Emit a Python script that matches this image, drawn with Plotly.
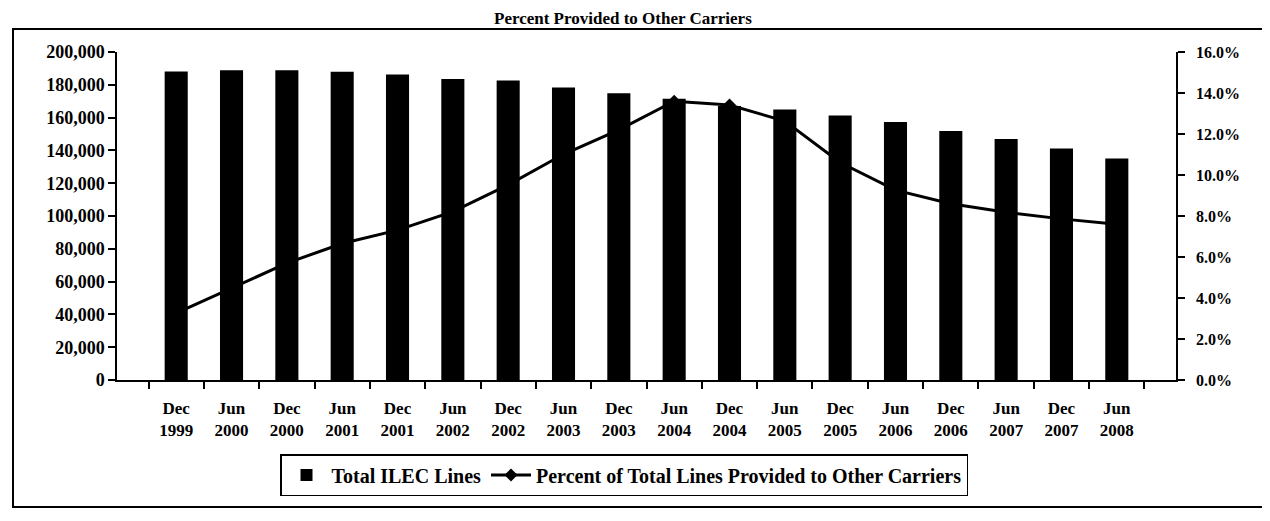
import plotly.graph_objects as go

# ---- data ----
periods = ["Dec 1999", "Jun 2000", "Dec 2000", "Jun 2001", "Dec 2001", "Jun 2002",
           "Dec 2002", "Jun 2003", "Dec 2003", "Jun 2004", "Dec 2004", "Jun 2005",
           "Dec 2005", "Jun 2006", "Dec 2006", "Jun 2007", "Dec 2007", "Jun 2008"]
tick_labels = [p.replace(" ", "<br>") for p in periods]
ilec_lines = [188100, 188800, 188900, 188000, 186300, 183500, 182600, 178400, 174800,
              171500, 167000, 165000, 161300, 157300, 151900, 146900, 141100, 135100]
pct_other = [3.26, 4.50, 5.70, 6.66, 7.31, 8.21, 9.52, 11.01, 12.20,
             13.60, 13.41, 12.63, 10.61, 9.26, 8.60, 8.18, 7.86, 7.60]

bar_name = "Total ILEC Lines"
line_name = "Percent of Total Lines Provided to Other Carriers"
title_text = "Percent Provided to Other Carriers"

FONT = "Liberation Serif"

fig = go.Figure()
fig.add_trace(go.Bar(
    x=periods, y=ilec_lines, name=bar_name,
    marker=dict(color="black", line=dict(width=0)),
    yaxis="y"))
fig.add_trace(go.Scatter(
    x=periods, y=pct_other, name=line_name, mode="lines+markers",
    line=dict(color="black", width=3),
    marker=dict(symbol="diamond", size=10, color="black"),
    yaxis="y2"))

# page body has an 8px margin: figure pixel = screen pixel - 8
OFF = 8
W, H = 1270 - OFF, 521 - OFF
L, R, T, B = 117 - OFF, W - (1176 - OFF), 52 - OFF, H - (380 - OFF)
pw, ph = W - L - R, H - T - B

def px_x(screen_x):
    return (screen_x - OFF - L) / pw

def px_y(screen_y):
    return (H - B - (screen_y - OFF)) / ph

fig.update_layout(
    width=W, height=H,
    margin=dict(l=L, r=R, t=T, b=B, autoexpand=False),
    paper_bgcolor="white", plot_bgcolor="white",
    font=dict(family=FONT, color="black", size=16),
    bargap=0.583,
    showlegend=True,
    legend=dict(
        orientation="h", x=px_x(624), xanchor="center", y=px_y(454), yanchor="top",
        bordercolor="black", borderwidth=1.5, bgcolor="white",
        font=dict(family=FONT, size=20, color="black", weight="bold"),
        itemwidth=40, tracegroupgap=0),
    xaxis=dict(
        type="category", tickvals=periods, ticktext=tick_labels,
        showline=True, linecolor="black", linewidth=1.5,
        ticks="outside", tickson="boundaries", ticklen=7, tickcolor="black", tickwidth=1.5,
        ticklabelstandoff=12, automargin=False,
        tickfont=dict(family=FONT, size=17, color="black", weight="bold"),
        showgrid=False, zeroline=False),
    yaxis=dict(
        range=[0, 200000], dtick=20000, tickformat=",",
        showline=True, linecolor="black", linewidth=1.5,
        ticks="outside", ticklen=7, tickcolor="black", tickwidth=1.5,
        automargin=False,
        tickfont=dict(family=FONT, size=18, color="black", weight="bold"),
        showgrid=False, zeroline=False),
    yaxis2=dict(
        range=[0, 16], dtick=2, tickformat=".1f", ticksuffix="%",
        overlaying="y", side="right",
        showline=True, linecolor="black", linewidth=1.5,
        ticks="outside", ticklen=7, tickcolor="black", tickwidth=1.5,
        ticklabelstandoff=8, automargin=False,
        tickfont=dict(family=FONT, size=16, color="black", weight="bold"),
        showgrid=False, zeroline=False),
    annotations=[dict(
        text=title_text, xref="paper", yref="paper",
        x=px_x(623), y=px_y(OFF), xanchor="center", yanchor="top",
        showarrow=False, borderpad=0,
        font=dict(family=FONT, size=17, color="black", weight="bold"))],
    shapes=[dict(
        type="rect", xref="paper", yref="paper", layer="below",
        x0=px_x(13), x1=px_x(1266), y0=px_y(507), y1=px_y(29),
        line=dict(color="black", width=2), fillcolor="rgba(0,0,0,0)")],
)

fig.write_html("out.html")
